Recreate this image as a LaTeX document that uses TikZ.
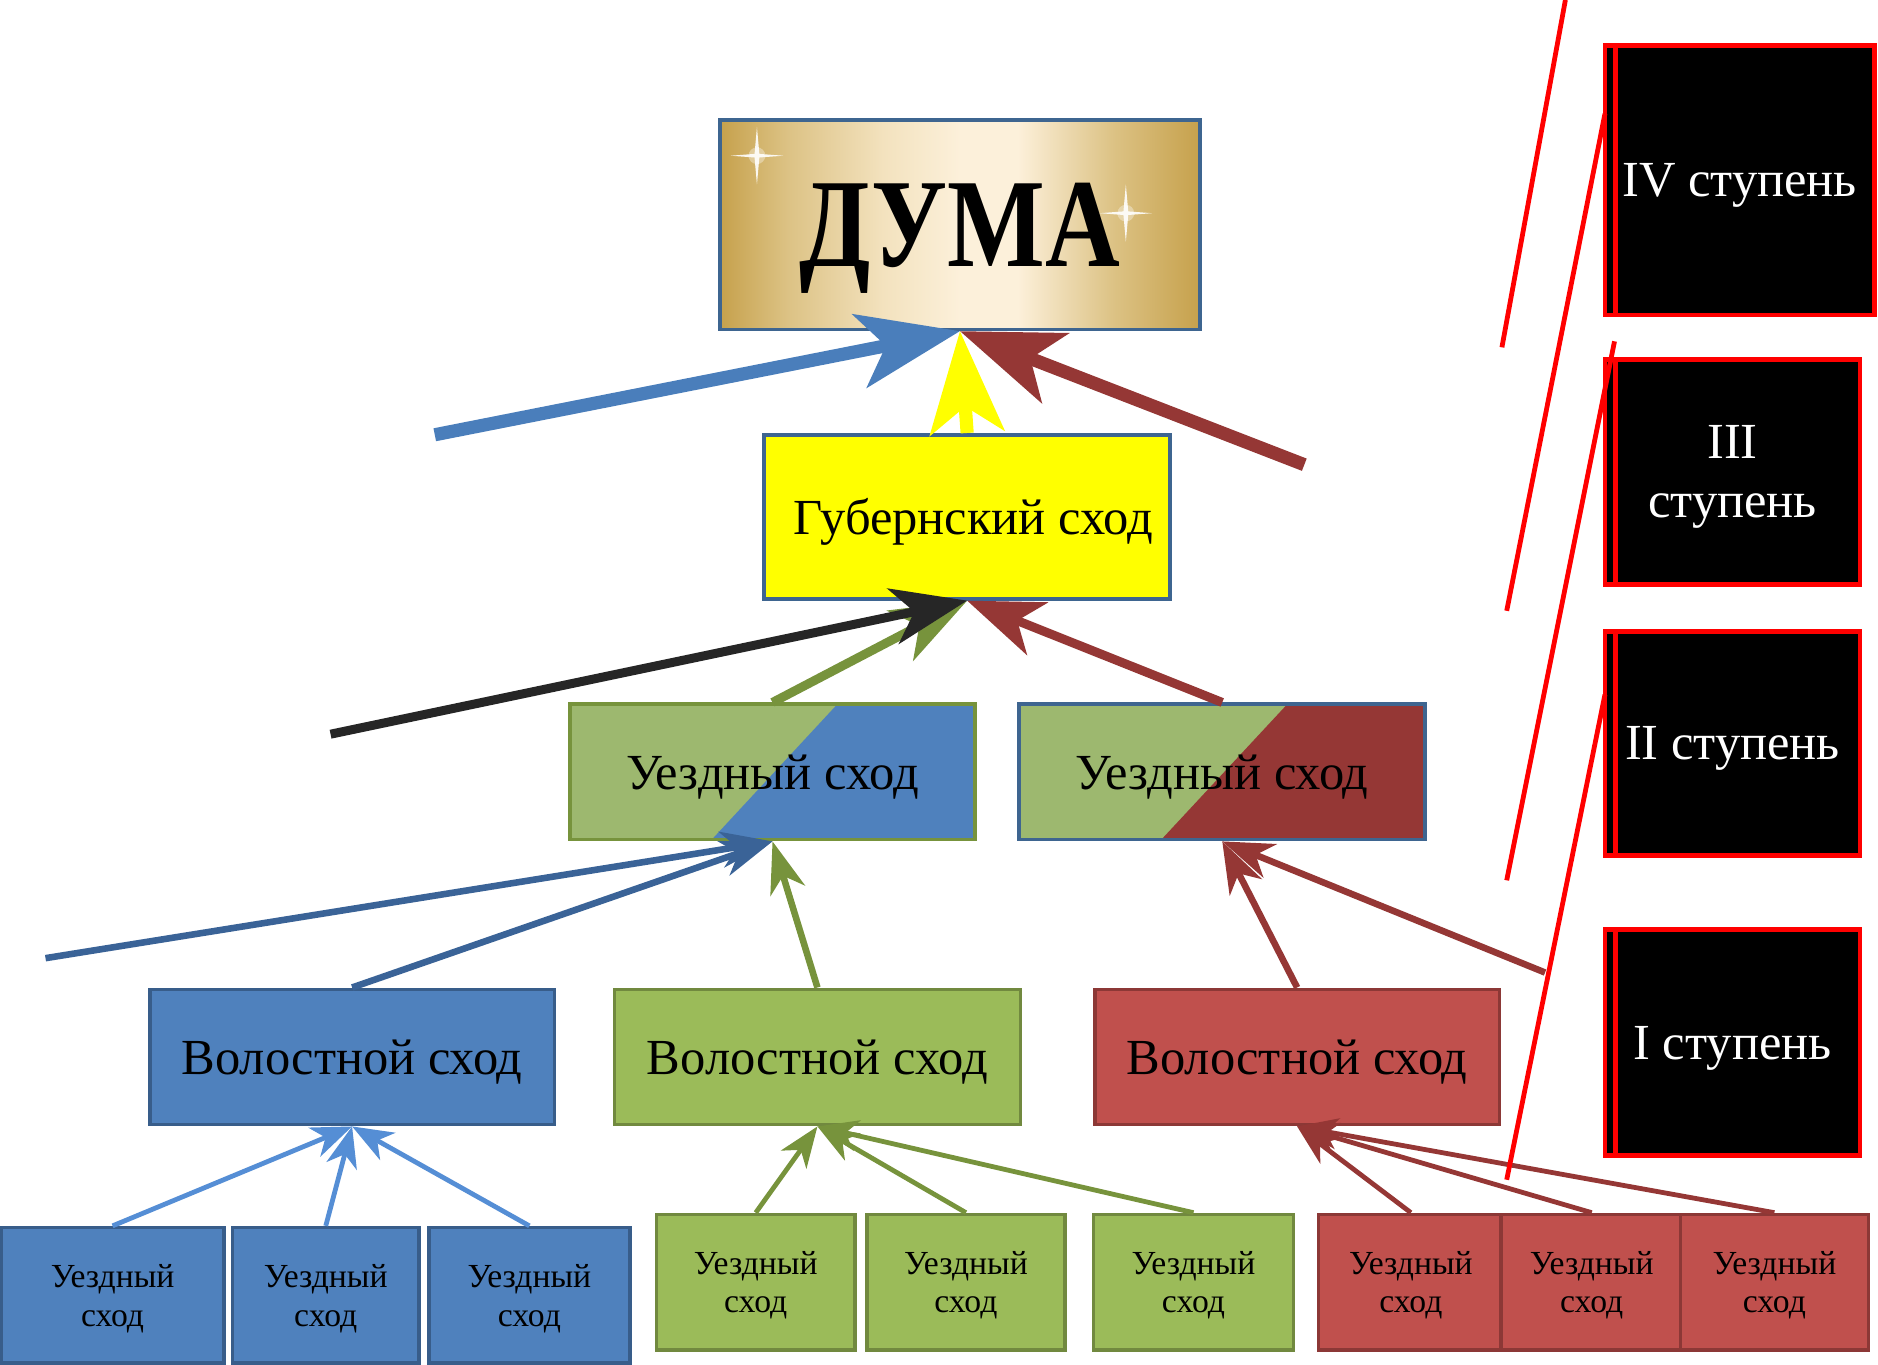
\documentclass[tikz,border=0pt]{standalone}
\usepackage{fontspec}
\setmainfont{Liberation Serif}
\usetikzlibrary{arrows.meta,calc}
\definecolor{gA}{HTML}{C6A14C}
\definecolor{gB}{HTML}{DCC284}
\definecolor{gC}{HTML}{F3E2BE}
\definecolor{gD}{HTML}{FCF0DA}
\definecolor{bfill}{HTML}{4F81BD}
\definecolor{bdraw}{HTML}{385D8A}
\definecolor{gfill}{HTML}{9BBB59}
\definecolor{gdraw}{HTML}{71893F}
\definecolor{gsoft}{HTML}{9DB86F}
\definecolor{rfill}{HTML}{C0504D}
\definecolor{rdraw}{HTML}{8C3836}
\definecolor{rdark}{HTML}{953735}
\definecolor{navy}{HTML}{3E6590}
\definecolor{bigblue}{HTML}{4A7EBB}
\definecolor{midblue}{HTML}{3A6397}
\definecolor{lightblue}{HTML}{558ED5}
\definecolor{garrow}{HTML}{77933C}
\definecolor{blk}{HTML}{262626}
\definecolor{pureyellow}{HTML}{FFFF00}
\definecolor{pured}{HTML}{FF0000}
\pgfdeclarehorizontalshading{goldsh}{100bp}{color(0bp)=(gA); color(25bp)=(gA); color(32bp)=(gB); color(42bp)=(gC); color(50bp)=(gD); color(56bp)=(gD); color(66bp)=(gB); color(75bp)=(gA); color(100bp)=(gA)}
\begin{document}
\begin{tikzpicture}[x=0.1mm,y=-0.1mm,
  base/.style={draw, line width=0.3mm, inner sep=0pt, align=center, minimum height=11.3mm,
    text depth=0pt, font=\fontsize{12pt}{14pt}\selectfont},
  bot/.style={base, font=\fontsize{8pt}{9.1pt}\selectfont},
  stage/.style={draw=pured, fill=black, line width=0.4mm, inner sep=0pt, align=center,
    text depth=0pt, text=white, font=\fontsize{12pt}{14pt}\selectfont,
    path picture={\draw[pured, line width=0.4mm]
      ([xshift=0.9mm]path picture bounding box.north west) --
      ([xshift=0.9mm]path picture bounding box.south west);}},
  splitbox/.style={base, fill=gsoft, path picture={\fill[#1]
      ($(path picture bounding box.north west)!0.66!(path picture bounding box.north east)$) --
      (path picture bounding box.north east) -- (path picture bounding box.south east) --
      ($(path picture bounding box.south west)!0.35!(path picture bounding box.south east)$) -- cycle;}},
  bigarr/.style={line width=1.1mm, -{Stealth[length=8.5mm,width=6.2mm,inset=2.2mm]}},
  secarr/.style={line width=0.75mm, -{Stealth[length=6.3mm,width=4.7mm,inset=1.8mm]}},
  midarr/.style={line width=0.55mm, -{Stealth[length=4.3mm,width=3.0mm,inset=1.3mm]}},
  lowarr/.style={line width=0.4mm, -{Stealth[length=3.4mm,width=2.6mm,inset=1.0mm]}},
  sep/.style={pured, line width=0.4mm}
]
\useasboundingbox (0,0) rectangle (1568,1139);
\clip (0,0) rectangle (1568,1139);

% ---- top box
\node[base, draw=navy, shading=goldsh, minimum width=40.1mm, minimum height=17.5mm,
  font=\fontsize{30pt}{30pt}\selectfont\bfseries] (duma) at (801.5,187.5) {\scalebox{0.82}[1]{ДУМА}};
\foreach \sx/\sy in {632/130, 940/178}{
  \fill[white, opacity=0.35] (\sx,\sy) circle (7);
  \fill[white, opacity=0.9] (\sx-22,\sy) -- (\sx-2,\sy-1.5) -- (\sx,\sy-24) -- (\sx+2,\sy-1.5) --
    (\sx+22,\sy) -- (\sx+2,\sy+1.5) -- (\sx,\sy+24) -- (\sx-2,\sy+1.5) -- cycle;
}

\node[base, draw=navy, fill=pureyellow, minimum width=33.9mm, minimum height=13.7mm] (gub) at (807.5,431.5) {\hspace*{1mm}Губернский сход};

\node[splitbox=bfill, draw=garrow, minimum width=33.8mm] (uz1) at (645,644.5) {Уездный сход};
\node[splitbox=rdark, draw=navy, minimum width=33.9mm] (uz2) at (1020.5,644.5) {Уездный сход};

\node[base, draw=bdraw, fill=bfill, minimum width=33.8mm] (vol1) at (294,882.5) {Волостной сход};
\node[base, draw=gdraw, fill=gfill, minimum width=33.9mm] (vol2) at (682.5,882.5) {Волостной сход};
\node[base, draw=rdraw, fill=rfill, minimum width=33.8mm] (vol3) at (1083,882.5) {Волостной сход};

\node[bot, draw=bdraw, fill=bfill, minimum width=18.6mm] (b1) at (94,1081.5) {Уездный\\сход};
\node[bot, draw=bdraw, fill=bfill, minimum width=15.6mm] (b2) at (272,1081.5) {Уездный\\сход};
\node[bot, draw=bdraw, fill=bfill, minimum width=16.8mm] (b3) at (442,1081.5) {Уездный\\сход};
\node[bot, draw=gdraw, fill=gfill, minimum width=16.6mm] (g1) at (631,1070.5) {Уездный\\сход};
\node[bot, draw=gdraw, fill=gfill, minimum width=16.5mm] (g2) at (806.5,1070.5) {Уездный\\сход};
\node[bot, draw=gdraw, fill=gfill, minimum width=16.7mm] (g3) at (996.5,1070.5) {Уездный\\сход};
\node[bot, draw=rdraw, fill=rfill, minimum width=15.4mm] (r1) at (1178,1070.5) {Уездный\\сход};
\node[bot, draw=rdraw, fill=rfill, minimum width=15.2mm] (r2) at (1329,1070.5) {Уездный\\сход};
\node[bot, draw=rdraw, fill=rfill, minimum width=15.7mm] (r3) at (1481.5,1070.5) {Уездный\\сход};

% ---- stage boxes
\node[stage, minimum width=22.5mm, minimum height=22.5mm] (s4) at (1452.5,150.5) {IV ступень};
\node[stage, minimum width=21.3mm, minimum height=18.8mm] (s3) at (1446.5,394) {III\\ступень};
\node[stage, minimum width=21.3mm, minimum height=18.7mm] (s2) at (1446.5,620.5) {II ступень};
\node[stage, minimum width=21.3mm, minimum height=18.9mm] (s1) at (1446.5,870.5) {I ступень};

% ---- free ends
\coordinate (bsrc) at (363,363);
\coordinate (rsrc) at (1089,388);
\coordinate (ksrc) at (276,613);
\coordinate (msrc) at (38,800);
\coordinate (nsrc) at (1290,812);

% ---- arrows to ДУМА
\draw[bigarr, bigblue] (bsrc) -- (duma.south);
\draw[bigarr, rdark] (rsrc) -- (duma.south);
\draw[bigarr, pureyellow] (gub.north) -- (duma.south);

% ---- arrows to Губернский
\draw[secarr, garrow] (uz1.north) -- (gub.south);
\draw[secarr, blk] (ksrc) -- (gub.south);
\draw[secarr, rdark] (uz2.north) -- (gub.south);

% ---- arrows to Уездный
\draw[midarr, midblue] (msrc) -- (uz1.south);
\draw[midarr, midblue] (vol1.north) -- (uz1.south);
\draw[midarr, garrow] (vol2.north) -- (uz1.south);
\draw[midarr, rdark] (vol3.north) -- (uz2.south);
\draw[midarr, rdark] (nsrc) -- (uz2.south);

% ---- arrows to Волостной
\foreach \n in {b1,b2,b3}{\draw[lowarr, lightblue] (\n.north) -- (vol1.south);}
\foreach \n in {g1,g2,g3}{\draw[lowarr, garrow] (\n.north) -- (vol2.south);}
\foreach \n in {r1,r2,r3}{\draw[lowarr, rdark] (\n.north) -- (vol3.south);}

% ---- red separator lines
\draw[sep] (1307,0) -- (1254,290);
\draw[sep] (1340,95) -- (1258,510);
\draw[sep] (1348,285) -- (1258,735);
\draw[sep] (1340,580) -- (1258,985);
\end{tikzpicture}
\end{document}
